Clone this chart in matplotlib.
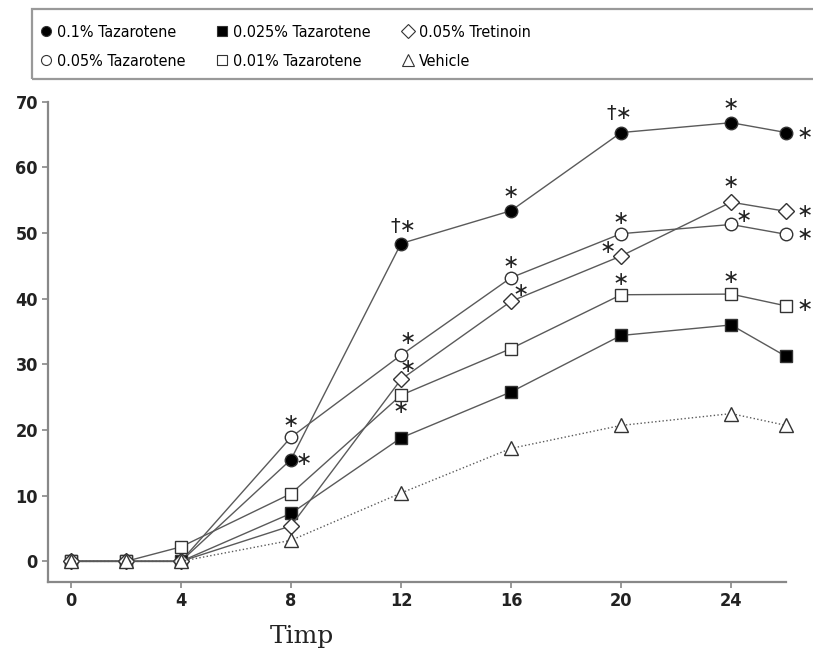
import matplotlib
matplotlib.use("Agg")
import matplotlib.pyplot as plt
from matplotlib.lines import Line2D
from matplotlib.patches import Rectangle

plt.rcParams['font.family'] = ['DejaVu Sans']
plt.rcParams['font.stretch'] = 'condensed'

# Data
times = [0, 2, 4, 8, 12, 16, 20, 24, 26]
taz_01 = [0, 0, 0, 15.5, 48.4, 53.4, 65.3, 66.8, 65.3]
taz_005 = [0, 0, 0, 18.9, 31.4, 43.2, 49.9, 51.3, 49.8]
taz_0025 = [0, 0, 0, 7.3, 18.8, 25.8, 34.4, 36.0, 31.2]
taz_001 = [0, 0, 2.2, 10.3, 25.3, 32.4, 40.6, 40.7, 38.9]
tretinoin = [0, 0, 0, 5.4, 27.7, 39.6, 46.5, 54.7, 53.3]
vehicle = [0, 0, 0, 3.2, 10.4, 17.2, 20.7, 22.5, 20.7]

labels = ["0.1% Tazarotene", "0.05% Tazarotene", "0.025% Tazarotene",
          "0.01% Tazarotene", "0.05% Tretinoin", "Vehicle"]
x_ticks = [0, 4, 8, 12, 16, 20, 24]
y_ticks = [0, 10, 20, 30, 40, 50, 60, 70]

# significance marks: (series index, time, mark, dx, dy) offsets in points
marks = [
    (0, 8, "∗", 9, 0), (1, 8, "∗", 0, 11),
    (0, 12, "†∗", 2, 12), (1, 12, "∗", 5, 12), (4, 12, "∗", 5, 9), (3, 12, "∗", 0, -9),
    (0, 16, "∗", 0, 13), (1, 16, "∗", 0, 11), (4, 16, "∗", 7, 8),
    (0, 20, "†∗", -1, 14), (1, 20, "∗", 0, 11), (4, 20, "∗", -10, 6), (3, 20, "∗", 0, 11),
    (0, 24, "∗", 0, 13), (4, 24, "∗", 0, 14), (1, 24, "∗", 9, 6), (3, 24, "∗", 0, 12),
    (0, 26, "∗", 13, -1), (4, 26, "∗", 13, 0), (1, 26, "∗", 13, 0), (3, 26, "∗", 13, 0),
]

series = [taz_01, taz_005, taz_0025, taz_001, tretinoin, vehicle]
styles = [
    dict(marker='o', mfc='black', ms=9),
    dict(marker='o', mfc='white', ms=9),
    dict(marker='s', mfc='black', ms=9),
    dict(marker='s', mfc='white', ms=9),
    dict(marker='D', mfc='white', ms=8.5),
    dict(marker='^', mfc='white', ms=10),
]

fig = plt.figure(figsize=(8.13, 6.49), dpi=100)
ax = fig.add_axes([0.0594, 0.1037, 0.9076, 0.7396])

# draw so that upper series sit on top
order = [5, 2, 3, 4, 1, 0]
for i in order:
    ls = ':' if i == 5 else '-'
    ax.plot(times, series[i], color='#5a5a5a', lw=1.0, ls=ls,
            mec='#333333', mew=1.0, zorder=3 + i * 0.1, clip_on=False, **styles[i])

for idx, t, m, dx, dy in marks:
    yv = series[idx][times.index(t)]
    ax.annotate(m, xy=(t, yv), xytext=(dx, dy), textcoords='offset points',
                ha='center', va='center', fontsize=14, fontstretch='normal',
                color='#222222', annotation_clip=False)

ax.set_xlim(-0.82, 26.0)
ax.set_ylim(-3.1, 70)
ax.set_xticks(x_ticks)
ax.set_yticks(y_ticks)
ax.tick_params(labelsize=13, length=4, width=1.2, colors='#222222')
ax.tick_params(color='#888888')
for lab in ax.get_xticklabels() + ax.get_yticklabels():
    lab.set_fontweight('bold')
for s in ['top', 'right']:
    ax.spines[s].set_visible(False)
for s in ['left', 'bottom']:
    ax.spines[s].set_color('#888888')
    ax.spines[s].set_linewidth(1.6)

ax.set_xlabel("Timp", family='DejaVu Serif', fontstretch='normal', fontsize=18,
              color='#222222')
ax.xaxis.set_label_coords(0.344, -0.09)

# legend box spanning the top of the figure
fig.patches.append(Rectangle((0.0394, 0.878), 1.0, 0.108, transform=fig.transFigure,
                             fill=False, edgecolor='#999999', lw=1.6))

col_x = [0.0487, 0.2652, 0.494]
for c in range(3):
    hs = []
    for i in (2 * c, 2 * c + 1):
        st = styles[i]
        hs.append(Line2D([], [], ls='none', marker=st['marker'], mfc=st['mfc'],
                         mec='#333333', ms=st['ms'] * 0.8, mew=0.8))
    fig.legend(hs, labels[2 * c:2 * c + 2], loc='center left',
               bbox_to_anchor=(col_x[c], 0.928), frameon=False, fontsize=11.5,
               handlelength=0.8, handletextpad=0.3, borderpad=0, borderaxespad=0,
               labelspacing=0.9)

plt.savefig("out.png", dpi=100)
